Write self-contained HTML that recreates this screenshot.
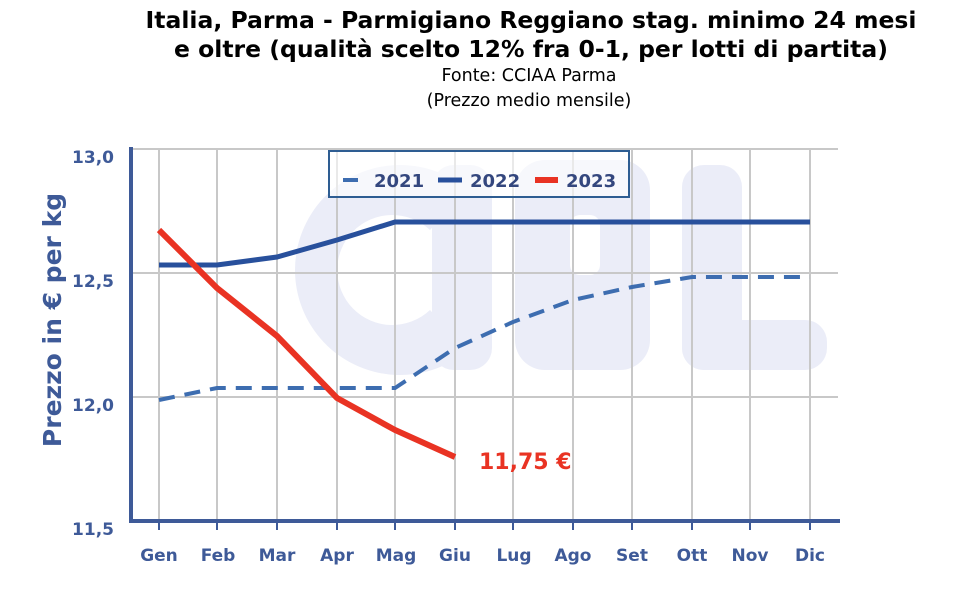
<!DOCTYPE html><html><head><style>body{margin:0;background:#fff}svg{display:block}</style></head><body>
<svg width="962" height="596" xmlns="http://www.w3.org/2000/svg" font-family="'DejaVu Sans',Verdana,sans-serif">
<rect width="962" height="596" fill="#fff"/>
<g text-anchor="middle" fill="#000">
<text x="531" y="28" font-size="23.5" font-weight="bold">Italia, Parma - Parmigiano Reggiano stag. minimo 24 mesi</text>
<text x="531" y="57" font-size="23.5" font-weight="bold">e oltre (qualità scelto 12% fra 0-1, per lotti di partita)</text>
<text x="529" y="81" font-size="17.5">Fonte: CCIAA Parma</text>
<text x="529" y="106" font-size="17.5">(Prezzo medio mensile)</text>
</g>
<g fill="#ebedf8">
<path d="M468 190 A105 105 0 1 0 468 350 L430 310 A55 55 0 1 1 430 230 Z"/>
<rect x="432" y="165" width="60" height="205" rx="22"/>
<rect x="515" y="160" width="135" height="210" rx="30"/>
<rect x="682" y="165" width="60" height="205" rx="22"/>
<rect x="682" y="320" width="145" height="50" rx="22"/>
</g>
<rect x="570" y="215" width="30" height="60" rx="10" fill="#fff"/>
<g stroke="#c8c8c8" stroke-width="2">
<line x1="131" y1="149" x2="838" y2="149"/><line x1="131" y1="273" x2="838" y2="273"/><line x1="131" y1="397" x2="838" y2="397"/>
<line x1="159" y1="149" x2="159" y2="521"/><line x1="217" y1="149" x2="217" y2="521"/><line x1="277" y1="149" x2="277" y2="521"/><line x1="337" y1="149" x2="337" y2="521"/><line x1="395" y1="149" x2="395" y2="521"/><line x1="455" y1="149" x2="455" y2="521"/><line x1="513" y1="149" x2="513" y2="521"/><line x1="573" y1="149" x2="573" y2="521"/><line x1="632" y1="149" x2="632" y2="521"/><line x1="692" y1="149" x2="692" y2="521"/><line x1="750" y1="149" x2="750" y2="521"/><line x1="810" y1="149" x2="810" y2="521"/>
</g>
<g stroke="#3e5a98" stroke-width="4" fill="none"><polyline points="131,147 131,521 840,521"/></g>
<g stroke="#3e5a98" stroke-width="2">
<line x1="159" y1="521" x2="159" y2="530"/><line x1="217" y1="521" x2="217" y2="530"/><line x1="277" y1="521" x2="277" y2="530"/><line x1="337" y1="521" x2="337" y2="530"/><line x1="395" y1="521" x2="395" y2="530"/><line x1="455" y1="521" x2="455" y2="530"/><line x1="513" y1="521" x2="513" y2="530"/><line x1="573" y1="521" x2="573" y2="530"/><line x1="632" y1="521" x2="632" y2="530"/><line x1="692" y1="521" x2="692" y2="530"/><line x1="750" y1="521" x2="750" y2="530"/><line x1="810" y1="521" x2="810" y2="530"/>
</g>
<g fill="#3e5a98" font-size="17" font-weight="bold" text-anchor="end">
<text x="114" y="163">13,0</text><text x="114" y="287">12,5</text><text x="114" y="411">12,0</text><text x="114" y="535">11,5</text>
</g>
<g fill="#3e5a98" font-size="17" font-weight="bold" text-anchor="middle">
<text x="159" y="561">Gen</text><text x="218" y="561">Feb</text><text x="277" y="561">Mar</text><text x="337" y="561">Apr</text><text x="396" y="561">Mag</text><text x="455" y="561">Giu</text><text x="514" y="561">Lug</text><text x="573" y="561">Ago</text><text x="632" y="561">Set</text><text x="692" y="561">Ott</text><text x="750" y="561">Nov</text><text x="810" y="561">Dic</text>
</g>
<text transform="translate(61,320) rotate(-90)" fill="#3e5a98" font-size="25" font-weight="bold" text-anchor="middle">Prezzo in € per kg</text>
<polyline points="159,400 217,388 277,388 337,388 395,388 455,348 513,322 573,300 632,287 692,277 750,277 810,277" fill="none" stroke="#3d6db0" stroke-width="4" stroke-dasharray="16,10"/>
<polyline points="159,265 217,265 277,257 337,240 395,222 455,222 513,222 573,222 632,222 692,222 750,222 810,222" fill="none" stroke="#28509c" stroke-width="5"/>
<polyline points="159,230 217,288 277,336 337,398 395,430 455,457" fill="none" stroke="#e93323" stroke-width="6"/>
<text x="479" y="469" fill="#e93323" font-size="22" font-weight="bold">11,75 €</text>
<rect x="329" y="151" width="300" height="46" fill="#fff" fill-opacity="0.6" stroke="#2e5d92" stroke-width="2"/>
<line x1="343" y1="180" x2="358" y2="180" stroke="#3d6db0" stroke-width="4"/>
<line x1="438" y1="180" x2="462" y2="180" stroke="#28509c" stroke-width="5"/>
<line x1="535" y1="180" x2="558" y2="180" stroke="#e93323" stroke-width="6"/>
<g fill="#34477e" font-size="18" font-weight="bold">
<text x="374" y="187">2021</text><text x="470" y="187">2022</text><text x="566" y="187">2023</text>
</g>
</svg>
</body></html>
